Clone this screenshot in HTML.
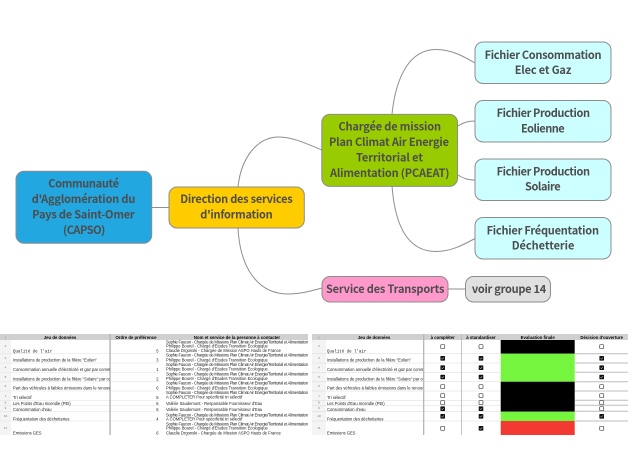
<!DOCTYPE html>
<html lang="fr"><head><meta charset="utf-8"><title>Carte mentale</title>
<style>
html,body{margin:0;padding:0;background:#fff}
svg{display:block}
.m{font-family:"Noto Sans CJK JP","Liberation Sans",sans-serif;font-weight:700;font-size:11px;fill:#4d4d4d}
.t{font-family:"Liberation Sans",sans-serif;font-size:4.1px;fill:#1a1a1a}
.h{font-family:"Liberation Sans",sans-serif;font-size:4.3px;font-weight:700;fill:#000;text-anchor:middle}
.q{font-family:"Liberation Mono",monospace;font-size:4.1px;fill:#1a1a1a}
.n{font-family:"Liberation Sans",sans-serif;font-size:3px;fill:#777;text-anchor:middle}
.b{stroke:#8c8c8c;stroke-width:1}
</style></head><body>
<svg xmlns="http://www.w3.org/2000/svg" width="643" height="451" viewBox="0 0 643 451">
<defs>
<clipPath id="c1"><rect x="11" y="334" width="99" height="104"/></clipPath>
<clipPath id="c2"><rect x="326" y="334" width="97" height="104"/></clipPath>
<g id="u"><rect x="-2" y="-2" width="4" height="4" rx=".7" fill="#fff" stroke="#444" stroke-width=".7"/></g>
<g id="k"><rect x="-2.300" y="-2.300" width="4.600" height="4.600" rx=".6" fill="#111"/><path d="M-1.200 0l.9 1 1.500-1.900" fill="none" stroke="#fff" stroke-width=".5"/></g>
</defs>
<rect width="643" height="451" fill="#fff"/>

<g fill="none" stroke="#8f8f8f" stroke-width="1">
<path d="M152 207.500H169"/>
<path d="M238 187C241 158 257 137 279 137C293 137 307 144 322 150"/>
<path d="M238 228C240 268 258 294 288 294C300 294 311 291 322 288"/>
<path d="M392 114C396 76 410 49.500 436 49.500C451 49.500 463 56 475 63"/>
<path d="M392 186C395 226 408 251.500 436 251.500C451 251.500 463 245 475 238.500"/>
<path d="M458 126C463 123 467 121 475 121"/>
<path d="M458 175C463 178 467 180 475 180"/>
<path d="M448 289H465"/>
</g>

<g class="b">
<rect x="16" y="171.300" width="135.700" height="72" rx="8" fill="#22a7e0"/>
<rect x="169" y="187" width="135.300" height="41" rx="8" fill="#ffcc00"/>
<rect x="321.800" y="114.400" width="135.700" height="72" rx="8" fill="#99cc00"/>
<rect x="475" y="42" width="136" height="41.500" rx="8" fill="#ccffff"/>
<rect x="475" y="100.500" width="136" height="41.500" rx="8" fill="#ccffff"/>
<rect x="475" y="159" width="136" height="41.500" rx="8" fill="#ccffff"/>
<rect x="475" y="217.500" width="136" height="41.500" rx="8" fill="#ccffff"/>
<rect x="322" y="276.500" width="126" height="25.500" rx="8" fill="#ff99cc"/>
<rect x="465.500" y="276.500" width="85" height="25.500" rx="8" fill="#e0e0e0"/>
</g>

<g class="m" lengthAdjust="spacing">
<text x="48.300" y="187.500" textLength="70.700">Communauté</text>
<text x="31.700" y="203" textLength="103.600">d'Agglomération du</text>
<text x="32.300" y="218.500" textLength="102.400">Pays de Saint-Omer</text>
<text x="63" y="234" textLength="42.300">(CAPSO)</text>
<text x="180.300" y="203" textLength="112.400">Direction des services</text>
<text x="200.300" y="218.500" textLength="72.400">d'information</text>
<text x="338.500" y="130.500" textLength="102.500">Chargée de mission</text>
<text x="329" y="146" textLength="120">Plan Climat Air Energie</text>
<text x="356" y="161.500" textLength="67">Territorial et</text>
<text x="330" y="177" textLength="119.400">Alimentation (PCAEAT)</text>
<text x="484.600" y="58.800" textLength="116.900">Fichier Consommation</text>
<text x="514.700" y="74.200" textLength="56.700">Elec et Gaz</text>
<text x="496.600" y="117" textLength="93.400">Fichier Production</text>
<text x="521" y="132.500" textLength="43.700">Eolienne</text>
<text x="496.600" y="175.300" textLength="93.400">Fichier Production</text>
<text x="525" y="190.700" textLength="35.600">Solaire</text>
<text x="486.600" y="234.300" textLength="112.400">Fichier Fréquentation</text>
<text x="511.700" y="249.700" textLength="62.700">Déchetterie</text>
<text x="326" y="293" textLength="118.400">Service des Transports</text>
<text x="471.900" y="293" textLength="74.300">voir groupe 14</text>
</g>

<!-- Tableau gauche -->
<rect x="0" y="334" width="308" height="6" fill="#d0d0d0"/>
<rect x="0" y="340" width="11" height="95" fill="#f4f4f4"/>
<g stroke="#e2e2e2" stroke-width=".5">
<path d="M0 353.700H160M0 363H160M0 372.300H160M0 381.700H160M0 391H160M0 400.300H160M0 405.300H160M0 411.300H160M0 421H160"/>
</g>
<rect x="109.300" y="334" width="1.500" height="101" fill="#b4b8bc"/>
<g class="h"><text x="60" y="339">Jeu de données</text><text x="136" y="339">Ordre de préférence</text><text x="237" y="339">Nom et service de la personne à contacter</text></g>
<g class="n"><text x="5.500" y="338.500">1</text><text x="5.500" y="347">2</text><text x="5.500" y="359">3</text><text x="5.500" y="368.500">4</text><text x="5.500" y="378">5</text><text x="5.500" y="387">6</text><text x="5.500" y="397">7</text><text x="5.500" y="403.500">8</text><text x="5.500" y="409">9</text><text x="5.500" y="417">10</text><text x="5.500" y="429">11</text></g>
<g clip-path="url(#c1)">
<text class="q" x="13" y="352.400">Qualité de l'air</text>
<g class="t">
<text x="13" y="361.700">Installations de production de la filière "Eolien"</text>
<text x="13" y="371">Consommation annuelle d'électricité et gaz par commune et secteur</text>
<text x="13" y="380.400">Installations de production de la filière "Solaire" par commune et type</text>
<text x="13" y="389.700">Part des véhicules à faibles émissions dans le renouvellement</text>
<text x="13" y="399">Tri sélectif</text>
<text x="13" y="405">Les Points d'Eau Incendie (PEI)</text>
<text x="13" y="411">Consommation d'eau</text>
<text x="13" y="420.400">Fréquentation des déchetteries</text>
<text x="13" y="434.400">Emissions GES</text>
</g></g>
<g class="t" text-anchor="end">
<text x="158.500" y="352.400">5</text><text x="158.500" y="361.700">3</text><text x="158.500" y="371">1</text><text x="158.500" y="380.400">2</text><text x="158.500" y="389.700">6</text><text x="158.500" y="399">5</text><text x="158.500" y="405">6</text><text x="158.500" y="411">6</text><text x="158.500" y="420.400">4</text><text x="158.500" y="434.400">6</text>
</g>
<g class="t">
<text x="166" y="343.400" textLength="142">Sophie Faucon - Chargée de Missions Plan Climat Air Energie/Territorial et Alimentation</text>
<text x="166" y="347.400">Philippe Bourel - Chargé d'Etudes Transition Ecologique</text>
<text x="166" y="352">Claudie Drgonski - Chargée de Mission ASPO Hauts de France</text>
<text x="166" y="356.700" textLength="142">Sophie Faucon - Chargée de Missions Plan Climat Air Energie/Territorial et Alimentation</text>
<text x="166" y="361.400">Philippe Bourel - Chargé d'Etudes Transition Ecologique</text>
<text x="166" y="366" textLength="142">Sophie Faucon - Chargée de Missions Plan Climat Air Energie/Territorial et Alimentation</text>
<text x="166" y="370.700">Philippe Bourel - Chargé d'Etudes Transition Ecologique</text>
<text x="166" y="375.400" textLength="142">Sophie Faucon - Chargée de Missions Plan Climat Air Energie/Territorial et Alimentation</text>
<text x="166" y="380">Philippe Bourel - Chargé d'Etudes Transition Ecologique</text>
<text x="166" y="384.700" textLength="142">Sophie Faucon - Chargée de Missions Plan Climat Air Energie/Territorial et Alimentation</text>
<text x="166" y="389.400">Philippe Bourel - Chargé d'Etudes Transition Ecologique</text>
<text x="166" y="394" textLength="142">Sophie Faucon - Chargée de Missions Plan Climat Air Energie/Territorial et Alimentation</text>
<text x="166" y="398.700">A COMPLETER Pour spécificité tri sélectif</text>
<text x="166" y="405">Valérie Saudemont - Responsable Fournisseur d'Eau</text>
<text x="166" y="411">Valérie Saudemont - Responsable Fournisseur d'Eau</text>
<text x="166" y="416.400" textLength="142">Sophie Faucon - Chargée de Missions Plan Climat Air Energie/Territorial et Alimentation</text>
<text x="166" y="420.400">A COMPLETER Pour spécificité tri sélectif</text>
<text x="166" y="425.700" textLength="142">Sophie Faucon - Chargée de Missions Plan Climat Air Energie/Territorial et Alimentation</text>
<text x="166" y="429.700">Philippe Bourel - Chargé d'Etudes Transition Ecologique</text>
<text x="166" y="434.400">Claudie Drgonski - Chargée de Mission ASPO Hauts de France</text>
</g>

<!-- Tableau droit -->
<rect x="312" y="334" width="316" height="6" fill="#d0d0d0"/>
<rect x="312" y="340" width="14" height="95" fill="#f4f4f4"/>
<g stroke="#d8d8d8" stroke-width=".5">
<path d="M312 353.700H500M312 363H500M312 372.300H500M312 381.700H500M312 391H500M312 400.300H500M312 405.300H500M312 411.300H500M312 421H500"/>
</g>
<g stroke="#bdbdbd" stroke-width="1">
<path d="M575 353.700H628M575 363H628M575 372.300H628M575 381.700H628M575 391H628M575 400.300H628M575 405.300H628M575 411.300H628M575 421H628"/>
</g>
<rect x="423" y="334" width="1.300" height="101" fill="#b4b8bc"/>
<rect x="461" y="334" width=".8" height="101" fill="#b4b8bc"/>
<rect x="500.700" y="340" width="74" height="13.700" fill="#000"/>
<rect x="500.700" y="353.700" width="74" height="28" fill="#76f53f"/>
<rect x="500.700" y="381.700" width="74" height="30" fill="#000"/>
<rect x="500.700" y="411.700" width="74" height="9.300" fill="#76f53f"/>
<rect x="500.700" y="421" width="74" height="14" fill="#f23a33"/>
<g class="h"><text x="374" y="339">Jeu de données</text><text x="442.700" y="339">à compléter</text><text x="481" y="339">à standardiser</text><text x="537.700" y="339">Evaluation finale</text><text x="601.700" y="339">Décision d'ouverture</text></g>
<g class="n"><text x="319" y="338.500">1</text><text x="319" y="347">2</text><text x="319" y="359">3</text><text x="319" y="368.500">4</text><text x="319" y="378">5</text><text x="319" y="387">6</text><text x="319" y="397">7</text><text x="319" y="403.500">8</text><text x="319" y="409">9</text><text x="319" y="417">10</text><text x="319" y="429">11</text></g>
<g clip-path="url(#c2)">
<text class="q" x="327" y="352.400">Qualité de l'air</text>
<g class="t">
<text x="327" y="361.700">Installations de production de la filière "Eolien"</text>
<text x="327" y="371">Consommation annuelle d'électricité et gaz par commune et secteur</text>
<text x="327" y="380.400">Installations de production de la filière "Solaire" par commune et type</text>
<text x="327" y="389.700">Part des véhicules à faibles émissions dans le renouvellement</text>
<text x="327" y="399">Tri sélectif</text>
<text x="327" y="405">Les Points d'Eau Incendie (PEI)</text>
<text x="327" y="411">Consommation d'eau</text>
<text x="327" y="420.400">Fréquentation des déchetteries</text>
<text x="327" y="434.400">Emissions GES</text>
</g></g>
<!-- Cases -->
<use href="#u" x="442.700" y="346.700"/><use href="#k" x="442.700" y="358.300"/><use href="#k" x="442.700" y="367.700"/><use href="#k" x="442.700" y="377"/><use href="#u" x="442.700" y="386.700"/><use href="#u" x="442.700" y="395.700"/><use href="#u" x="442.700" y="402.700"/><use href="#k" x="442.700" y="408.700"/><use href="#k" x="442.700" y="416.300"/><use href="#u" x="442.700" y="428.300"/>
<use href="#u" x="481" y="346.700"/><use href="#k" x="481" y="358.300"/><use href="#k" x="481" y="367.700"/><use href="#k" x="481" y="377"/><use href="#u" x="481" y="386.700"/><use href="#u" x="481" y="395.700"/><use href="#u" x="481" y="402.700"/><use href="#k" x="481" y="408.700"/><use href="#k" x="481" y="416.300"/><use href="#k" x="481" y="428.300"/>
<use href="#u" x="601.700" y="346.700"/><use href="#k" x="601.700" y="358.300"/><use href="#k" x="601.700" y="367.700"/><use href="#k" x="601.700" y="377"/><use href="#u" x="601.700" y="386.700"/><use href="#u" x="601.700" y="395.700"/><use href="#u" x="601.700" y="402.700"/><use href="#u" x="601.700" y="408.700"/><use href="#k" x="601.700" y="416.300"/><use href="#u" x="601.700" y="428.300"/>
</svg>
</body></html>
